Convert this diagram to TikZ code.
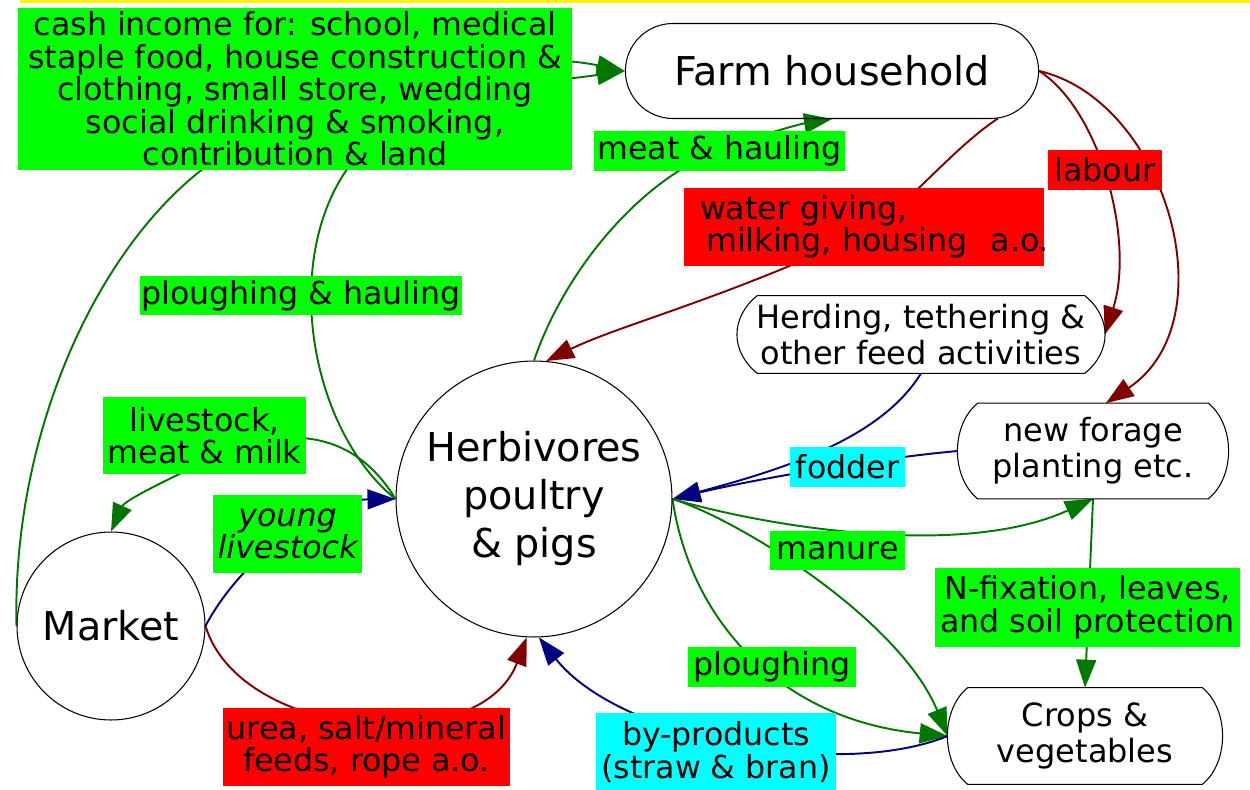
\documentclass[tikz,border=0pt]{standalone}
\usepackage{fontspec}
\setmainfont{DejaVu Sans}
\usetikzlibrary{arrows.meta,shapes.misc,backgrounds}

\definecolor{lblgreen}{HTML}{00FF00}
\definecolor{lblred}{HTML}{FF0000}
\definecolor{lblcyan}{HTML}{00FFFF}
\definecolor{edgegreen}{HTML}{007800}
\definecolor{edgered}{HTML}{800000}
\definecolor{edgeblue}{HTML}{000080}

\newcommand\lblsize{\fontsize{18}{18.5}\selectfont}
\newcommand\boxsize{\fontsize{18.2}{20.5}\selectfont}
\newcommand\bigsize{\fontsize{22.6}{27.3}\selectfont}

\begin{document}
\begin{tikzpicture}[x=0.02cm, y=-0.02cm,
    lbl/.style={inner sep=1pt, align=center, font=\lblsize},
    grnlbl/.style={lbl, fill=lblgreen},
    redlbl/.style={lbl, fill=lblred},
    cyanlbl/.style={lbl, fill=lblcyan},
    roundnode/.style={circle, draw, line width=0.6pt, inner sep=0pt, font=\bigsize, align=center},
    farmbox/.style={rounded rectangle, draw, line width=0.6pt, font=\bigsize},
    barrel/.style={inner sep=0pt, align=center, font=\boxsize},
    flow/.style={line width=1.1pt, -{Triangle[length=0.56cm,width=0.4cm]}},
    gflow/.style={flow, edgegreen},
    rflow/.style={flow, edgered},
    bflow/.style={flow, edgeblue}]
    \useasboundingbox (0,0) rectangle (1250,790);
    \draw[yellow, line width=1.7pt] (20,1.5) -- (1250,1.5);

    % main nodes
    \node[farmbox, minimum width=8.5cm, minimum height=1.9cm] (farm) at (832,71) {Farm household};
    \node[roundnode, minimum size=5.52cm] (herb) at (534,499) {Herbivores\\poultry\\\& pigs};
    \node[roundnode, minimum size=3.76cm] (mkt) at (111,626) {Market};
    \node[barrel, minimum width=7.34cm, minimum height=1.54cm] (herd) at (921,334.5) {Herding, tethering \&\\other feed activities};
    \node[barrel, minimum width=5.4cm, minimum height=1.9cm] (forage) at (1093,451) {new forage\\planting etc.};
    \node[barrel, minimum width=5.48cm, minimum height=1.92cm] (crops) at (1085,736) {Crops \&\\vegetables};
    \foreach \n in {herd,forage,crops}
        \draw[line width=0.6pt] ([xshift=0.4cm]\n.north west) -- ([xshift=-0.4cm]\n.north east)
            .. controls +(27,22) and +(27,-22) .. ([xshift=-0.4cm]\n.south east)
            -- ([xshift=0.4cm]\n.south west)
            .. controls +(-27,-22) and +(-27,22) .. cycle;

    % edge labels
    \node[grnlbl, minimum width=11.08cm, minimum height=3.26cm] (cash) at (295,89)
        {cash income for: school, medical\\staple food, house construction \&\\clothing, small store, wedding\\social drinking \& smoking,\hspace*{1.2em}\\contribution \& land};
    \node[grnlbl, minimum width=5.02cm, minimum height=0.8cm] (meathaul) at (719.5,151) {meat \& hauling};
    \node[redlbl, text width=6.56cm, align=left, inner xsep=0.32cm, minimum height=1.56cm] (water) at (864,227)
        {water giving,\\\mbox{\hspace*{0.2em}milking, housing\hspace{0.4em} a.o.}};
    \node[redlbl, minimum width=2.28cm, minimum height=0.8cm] (labour) at (1105,170) {labour};
    \node[grnlbl, minimum width=6.44cm, minimum height=0.78cm] (ploughhaul) at (301,295.5) {ploughing \& hauling};
    \node[grnlbl, minimum width=4.06cm, minimum height=1.54cm] (livestock) at (204.5,435.5) {livestock,\\meat \& milk};
    \node[grnlbl, minimum width=2.98cm, minimum height=1.56cm, font=\lblsize\itshape] (young) at (287.5,534) {young\\livestock};
    \node[cyanlbl, minimum width=2.3cm, minimum height=0.8cm] (fodder) at (847.5,467) {fodder};
    \node[grnlbl, minimum width=2.7cm, minimum height=0.8cm] (manure) at (837.5,550.5) {manure};
    \node[grnlbl, minimum width=6.1cm, minimum height=1.58cm] (nfix) at (1087.5,607.5) {N-fixation, leaves,\\and soil protection};
    \node[grnlbl, minimum width=3.36cm, minimum height=0.8cm] (plough) at (772,667) {ploughing};
    \node[cyanlbl, minimum width=4.8cm, minimum height=1.56cm] (byprod) at (716,752) {by-products\\(straw \& bran)};
    \node[redlbl, minimum width=5.74cm, minimum height=1.56cm] (urea) at (366.5,747) {urea, salt/mineral\\feeds, rope a.o.};

    % edges go behind the labels
    \begin{pgfonlayer}{background}
        \draw[gflow] (mkt.west) .. controls (12,430) and (100,240) .. (215,160)
            .. controls (330,80) and (480,92) .. (farm.west);
        \draw[gflow] (herb.west) .. controls (310,430) and (280,260) .. (350,165)
            .. controls (400,95) and (500,45) .. (farm.west);
        \draw[gflow] (herb.west) .. controls (360,440) and (300,420) .. (220,455)
            .. controls (170,478) and (125,500) .. (mkt.north);
        \draw[gflow] (herb.north) .. controls (565,270) and (640,180) .. (720,150)
            .. controls (760,135) and (800,124) .. (farm.south);
        \draw[rflow] (farm.-16) .. controls (950,150) and (900,215) .. (860,235)
            .. controls (720,300) and (620,325) .. (herb.85);
        \draw[rflow] (farm.east) .. controls (1100,110) and (1135,240) .. (herd.east);
        \draw[rflow] (farm.east) .. controls (1165,100) and (1230,320) .. (forage.75);
        \draw[bflow] (herd.south) .. controls (880,440) and (780,470) .. (herb.east);
        \draw[bflow] (forage.west) .. controls (880,458) and (760,478) .. (herb.east);
        \draw[gflow] (herb.east) .. controls (760,525) and (960,560) .. (forage.south);
        \draw[gflow] (herb.east) .. controls (740,520) and (900,620) .. (crops.west);
        \draw[gflow] (herb.east) .. controls (690,620) and (780,720) .. (crops.west);
        \draw[gflow] (forage.south) -- (crops.north);
        \draw[bflow] (crops.west) .. controls (840,780) and (620,740) .. (herb.-88);
        \draw[rflow] (mkt.east) .. controls (240,740) and (480,760) .. (herb.-93);
        \draw[bflow] (mkt.east) .. controls (240,560) and (320,500) .. (herb.west);
    \end{pgfonlayer}
\end{tikzpicture}
\end{document}
